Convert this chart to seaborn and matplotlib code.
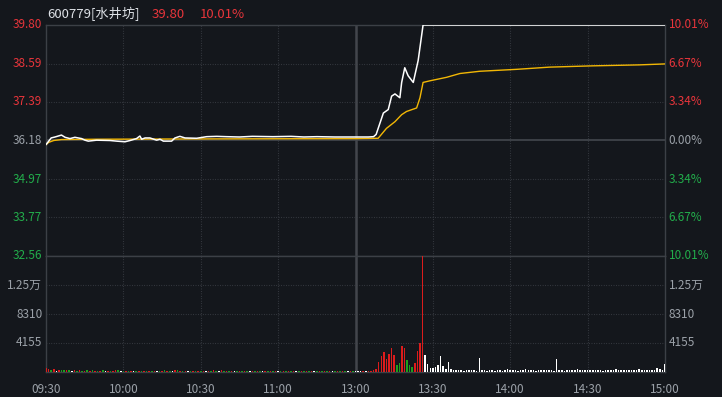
import numpy as np
import pandas as pd
import matplotlib
matplotlib.use("Agg")
import matplotlib.pyplot as plt
import seaborn as sns

# ---------------- data ----------------
code_name = "600779[水井坊]"
last_price = "39.80"
last_pct = "10.01%"

price_ticks = [39.80, 38.59, 37.39, 36.18, 34.97, 33.77, 32.56]
pct_labels = ["10.01%", "6.67%", "3.34%", "0.00%", "3.34%", "6.67%", "10.01%"]
vol_ticks = [12465, 8310, 4155]
vol_labels = ["1.25万", "8310", "4155"]
time_ticks = [0, 30, 60, 90, 120, 150, 180, 210, 240]
time_labels = ["09:30", "10:00", "10:30", "11:00", "13:00", "13:30", "14:00", "14:30", "15:00"]

# price line (minute index, price)
price_min = [0, 2, 3.5, 6, 7.4, 9.3, 11.2, 13.8, 15.1, 16.4, 19.6, 24.8, 27.4, 30.6, 32.6,
             35.1, 36.4, 37.1, 38.4, 40.3, 42.9, 44.2, 45.5, 48.7, 50, 51.9, 53.9, 58.4,
             62.3, 66.2, 70, 75, 80, 88, 95, 100, 105, 112, 120, 125, 127,
             128, 130.8, 132.7, 134, 135.3, 137.2, 137.9, 139.1, 140.4, 142.4, 144.3,
             146.2, 240]
price_val = [36.05, 36.26, 36.29, 36.35, 36.28, 36.24, 36.28, 36.24, 36.19, 36.16, 36.19,
             36.18, 36.16, 36.14, 36.18, 36.24, 36.32, 36.22, 36.26, 36.26, 36.19, 36.22,
             36.16, 36.16, 36.26, 36.31, 36.26, 36.25, 36.30, 36.31, 36.30, 36.29, 36.31,
             36.30, 36.31, 36.29, 36.30, 36.29, 36.29, 36.29, 36.30,
             36.37, 37.04, 37.15, 37.57, 37.64, 37.52, 38.00, 38.46, 38.21, 38.00, 38.69,
             39.80, 39.80]

# average price line
avg_min = [0, 1, 3, 6, 20, 60, 120, 128.8, 132, 135.3, 137.9, 139.8, 143.7, 145, 146.2,
           148.8, 155.3, 160.5, 168.2, 182.4, 195.3, 212, 230, 240]
avg_val = [36.05, 36.12, 36.18, 36.21, 36.22, 36.23, 36.24, 36.25, 36.56, 36.77, 36.99,
           37.09, 37.20, 37.52, 38.00, 38.05, 38.16, 38.28, 38.35, 38.41, 38.48, 38.52,
           38.55, 38.58]

# volume per minute
vol_morning = [520, 380, 300, 450, 180, 260, 220, 310, 270, 240, 200, 330, 180, 260, 210, 150, 280, 190, 230, 170,
               160, 210, 240, 180, 150, 200, 170, 230, 260, 190, 140, 180, 160, 120, 150, 200, 140, 170, 130, 160,
               150, 120, 180, 140, 110, 160, 220, 130, 150, 180, 300, 250, 140, 120, 160, 130, 110, 150, 170, 120,
               130, 150, 200, 120, 180, 250, 150, 110, 230, 130, 160, 120, 140, 110, 130, 120, 150, 110, 100, 130,
               110, 120, 150, 100, 130, 120, 110, 140, 100, 120, 110, 130, 100, 120, 140, 110, 100, 130, 120, 110,
               120, 100, 110, 130, 100, 120, 110, 100, 120, 140, 110, 100, 120, 110, 130, 100, 120, 110, 100, 130]
vol_pre = [150, 120, 110, 130, 120, 150, 200, 300, 450]
vol_surge = [1500, 2320, 2900, 1930, 2600, 3475, 2410, 1010, 1300, 3765, 3475, 1740, 1010, 770,
             1300, 3040, 4200, 16700]
vol_after1 = [2400, 1160, 580, 580, 770, 1010, 2320, 870, 430, 1450, 430, 290, 290, 250, 290, 200,
              250, 350, 290, 250, 200, 2030]
vol_after2 = [300, 250, 200, 290, 350, 200, 250, 300, 200, 250, 400, 300, 250, 350, 200, 300, 250,
              400, 300, 250, 300, 200, 350, 250, 300, 350, 250, 300, 200, 1900]
vol_after3 = [250, 300, 200, 350, 300, 250, 300, 400, 300, 250, 350, 300, 250, 300, 350, 250, 300,
              200, 300, 350, 250, 300, 400, 300, 250, 300, 350, 300, 250, 300, 350, 400, 300, 250,
              350, 300, 250, 300, 600, 400, 250, 1160]

col_morning = ("rrgrwrggrgwrgrgrgrgr" "grgwrgrrgwgrgrwgrgrg" "rgrwgrgrgwrgrgrwgrgr"
               "grwrgrgwrgrgrwgrgrgw" "rgrgwrgrgrwgrgrgrwgr" "grgrwgrgrgrwgrgrgwrg")
col_pre = "wwwrwrrrr"
col_surge = "rrrrrrrggrrgggrrrr"

# ---------------- build ----------------
vol = vol_morning + vol_pre + vol_surge + vol_after1 + vol_after2 + vol_after3
cols = list(col_morning + col_pre + col_surge)
cols = cols + ["w"] * (len(vol) - len(cols))
vdf = pd.DataFrame({"minute": np.arange(len(vol)), "vol": vol, "kind": cols[:len(vol)]})
pdf = pd.DataFrame({"minute": price_min, "price": price_val})
adf = pd.DataFrame({"minute": avg_min, "price": avg_val})

BG = "#14171c"
GRID = "#3c4047"
SOLID = "#3c4046"
RED = "#e8353b"
GREEN = "#22ad4b"
GRAY = "#9ba1a8"

sns.set_theme(style="dark")
plt.rcParams["font.family"] = ["Noto Sans CJK SC", "DejaVu Sans"]

W, H = 722, 397
fig = plt.figure(figsize=(W / 100, H / 100), dpi=100, facecolor=BG)
L, R = 46, 665
ax_p = fig.add_axes([L / W, 1 - 256 / H, (R - L) / W, (256 - 25) / H])
ax_v = fig.add_axes([L / W, 1 - 372 / H, (R - L) / W, (372 - 256) / H])

for ax in (ax_p, ax_v):
    ax.set_facecolor(BG)
    ax.set_xlim(0, 240)
    ax.set_xticks([])
    ax.set_yticks([])
    ax.set_xlabel("")
    ax.set_ylabel("")
    ax.grid(False)
    for s in ax.spines.values():
        s.set_color(SOLID)
        s.set_linewidth(1.0)
        s.set_visible(True)

dot = (0, (0.7, 1.5))
# vertical grid lines
for ax in (ax_p, ax_v):
    for t in time_ticks[1:-1]:
        if t == 120:
            ax.axvline(t, color="#43464c", lw=1.8, zorder=1)
        else:
            ax.axvline(t, color=GRID, lw=0.8, ls=dot, zorder=1)

ax_p.set_ylim(32.56, 39.80)
for p in price_ticks[1:-1]:
    if abs(p - 36.18) < 1e-6:
        ax_p.axhline(p, color="#44484e", lw=1.2, zorder=1)
    else:
        ax_p.axhline(p, color=GRID, lw=0.8, ls=dot, zorder=1)

ax_v.set_ylim(0, 16620)
for v in vol_ticks:
    ax_v.axhline(v, color=GRID, lw=0.8, ls=dot, zorder=1)

# price lines
sns.lineplot(data=adf, x="minute", y="price", ax=ax_p, color="#f2b705", lw=1.0, zorder=3)
sns.lineplot(data=pdf, x="minute", y="price", ax=ax_p, color="#ffffff", lw=1.1, zorder=4)
ax_p.set_xlabel("")
ax_p.set_ylabel("")
ax_p.set_xlim(0, 240)
ax_p.set_ylim(32.56, 39.80)

# volume bars
sns.barplot(data=vdf, x="minute", y="vol", hue="kind", ax=ax_v, native_scale=True,
            palette={"r": "#dc1c1c", "g": "#1e9e1e", "w": "#ffffff"}, dodge=False,
            width=0.6, saturation=1, errorbar=None, legend=False, linewidth=0, zorder=3)
ax_v.set_xlabel("")
ax_v.set_ylabel("")
ax_v.set_xlim(0, 240)
ax_v.set_ylim(0, 16620)
ax_v.set_xticks([])
ax_v.set_yticks([])

FS = 8.5
# price labels
lab_cols = [RED, RED, RED, GRAY, GREEN, GREEN, GREEN]
trp = ax_p.get_yaxis_transform()
for p, pl, c in zip(price_ticks, pct_labels, lab_cols):
    ax_p.text(-0.006, p, f"{p:.2f}", transform=trp, ha="right", va="center",
              color=c, fontsize=FS, clip_on=False)
    ax_p.text(1.006, p, pl, transform=trp, ha="left", va="center",
              color=c, fontsize=FS, clip_on=False)

trv = ax_v.get_yaxis_transform()
for v, vl in zip(vol_ticks, vol_labels):
    ax_v.text(-0.006, v, vl, transform=trv, ha="right", va="center", color=GRAY, fontsize=FS)
    ax_v.text(1.006, v, vl, transform=trv, ha="left", va="center", color=GRAY, fontsize=FS)

# time labels
trx = ax_v.get_xaxis_transform()
for t, tl in zip(time_ticks, time_labels):
    ax_v.text(t, -0.095, tl, transform=trx, ha="center", va="top", color=GRAY, fontsize=FS)

# header
fig.text(47 / W, 1 - 14 / H, code_name, color="#dde1e6", fontsize=9.5, ha="left", va="center")
fig.text(152 / W, 1 - 14 / H, last_price, color=RED, fontsize=9.5, ha="left", va="center")
fig.text(200 / W, 1 - 14 / H, last_pct, color=RED, fontsize=9.5, ha="left", va="center")

fig.savefig("out.png", dpi=100, facecolor=BG)
